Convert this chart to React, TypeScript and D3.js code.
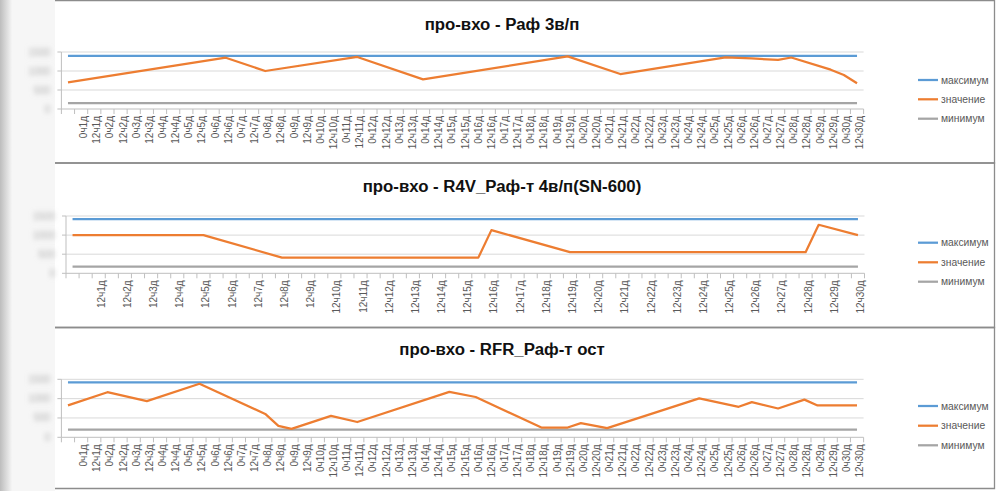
import React from "react";
import * as d3 from "d3";

const categories: string[] = [
  "", "0ч1д", "12ч1д", "0ч2д", "12ч2д", "0ч3д", "12ч3д", "0ч4д", "12ч4д", "0ч5д", "12ч5д",
  "0ч6д", "12ч6д", "0ч7д", "12ч7д", "0ч8д", "12ч8д", "0ч9д", "12ч9д", "0ч10д", "12ч10д",
  "0ч11д", "12ч11д", "0ч12д", "12ч12д", "0ч13д", "12ч13д", "0ч14д", "12ч14д", "0ч15д", "12ч15д",
  "0ч16д", "12ч16д", "0ч17д", "12ч17д", "0ч18д", "12ч18д", "0ч19д", "12ч19д", "0ч20д", "12ч20д",
  "0ч21д", "12ч21д", "0ч22д", "12ч22д", "0ч23д", "12ч23д", "0ч24д", "12ч24д", "0ч25д", "12ч25д",
  "0ч26д", "12ч26д", "0ч27д", "12ч27д", "0ч28д", "12ч28д", "0ч29д", "12ч29д", "0ч30д", "12ч30д",
];

const yTicks = [0, 500, 1000, 1500];
const seriesNames = ["максимум", "значение", "минимум"];
const seriesColors = ["#5b9bd5", "#ed7d31", "#a5a5a5"];

const titles = [
  "про-вхо - Раф 3в/п",
  "про-вхо - R4V_Раф-т 4в/п(SN-600)",
  "про-вхо - RFR_Раф-т ост",
];

const maxValues = [1400, 1420, 1420];
const minValues = [155, 175, 200];

// measured points ("значение"); Excel connects the gaps with straight lines
const values1: [string, number][] = [
  ["", 700], ["12ч6д", 1350], ["0ч8д", 1000], ["12ч11д", 1370], ["0ч14д", 780],
  ["12ч19д", 1385], ["12ч21д", 920], ["12ч25д", 1360], ["12ч26д", 1330], ["12ч27д", 1290],
  ["0ч28д", 1355], ["12ч29д", 1035], ["0ч30д", 895], ["12ч30д", 676],
];
const values2: [string, number][] = [
  ["", 1000], ["12ч5д", 1000], ["12ч8д", 410], ["0ч16д", 410], ["12ч16д", 1130],
  ["12ч19д", 553], ["12ч28д", 553], ["0ч29д", 1270], ["12ч30д", 1000],
];
const values3: [string, number][] = [
  ["", 824], ["0ч2д", 1166], ["12ч3д", 937], ["12ч5д", 1384], ["0ч8д", 605],
  ["12ч8д", 297], ["0ч9д", 218], ["12ч10д", 553], ["12ч11д", 395], ["0ч15д", 1174],
  ["0ч16д", 1042], ["12ч18д", 253], ["12ч19д", 253], ["0ч20д", 368], ["0ч21д", 237],
  ["12ч24д", 1008], ["0ч26д", 789], ["12ч26д", 911], ["12ч27д", 745], ["12ч28д", 974],
  ["0ч29д", 824], ["12ч30д", 824],
];
const panelValues = [values1, values2, values3];

const layouts = [
  { top: 0.5, bottom: 163, titleY: 24, plotTop: 52, plotBottom: 109, x0: 61.4, x1: 863.6, legendY: [80, 99.3, 118.7], labelStep: 1 },
  { top: 163, bottom: 327.5, titleY: 186.7, plotTop: 216, plotBottom: 273.3, x0: 66, x1: 864.5, legendY: [242.7, 262.3, 281.7], labelStep: 2 },
  { top: 327.5, bottom: 488.5, titleY: 349, plotTop: 379.3, plotBottom: 437.3, x0: 61.4, x1: 863.6, legendY: [406, 425.7, 445.3], labelStep: 1 },
];

const FONT = "'Liberation Sans', Arial, sans-serif";

function Panel({ i }: { i: number }) {
  const L = layouts[i];
  const x = d3.scaleBand<string>().domain(categories).range([L.x0, L.x1]).padding(0);
  const y = d3.scaleLinear().domain([0, 1500]).range([L.plotBottom, L.plotTop]);
  const cx = (c: string) => (x(c) ?? 0) + x.bandwidth() / 2;
  const line = d3.line<[string, number]>().x((d) => cx(d[0])).y((d) => y(d[1]));
  const maxLine = line(categories.map((c) => [c, maxValues[i]] as [string, number])) || "";
  const minLine = line(categories.map((c) => [c, minValues[i]] as [string, number])) || "";
  const valLine = line(panelValues[i]) || "";
  const boundaries = d3.range(categories.length + 1).map((k) => L.x0 + k * x.bandwidth());

  return (
    <g>
      <path
        d={`M55,${L.top}H994.5V${L.bottom}H55`}
        fill="none"
        stroke="#8c8c8c"
        strokeWidth={1.3}
      />
      <text x={502} y={L.titleY} textAnchor="middle" dominantBaseline="central" fontFamily={FONT} fontWeight="bold" fontSize={16.8} fill="#111">
        {titles[i]}
      </text>
      {yTicks.slice(1).map((t) => (
        <line key={t} x1={L.x0} x2={L.x1} y1={y(t)} y2={y(t)} stroke="#d9d9d9" strokeWidth={1} />
      ))}
      <line x1={L.x0} x2={L.x0} y1={y(1500)} y2={y(0)} stroke="#bfbfbf" strokeWidth={1} />
      {yTicks.map((t) => (
        <line key={"yt" + t} x1={L.x0 - 4} x2={L.x0} y1={y(t)} y2={y(t)} stroke="#bfbfbf" strokeWidth={1} />
      ))}
      {yTicks.map((t) => (
        <text key={"yl" + t} x={L.x0 - 11} y={y(t)} textAnchor="end" dominantBaseline="central" fontFamily={FONT} fontSize={10} fill="#b0b0b0" filter="url(#blurLbl)">
          {t}
        </text>
      ))}
      <line x1={L.x0} x2={L.x1} y1={y(0)} y2={y(0)} stroke="#bfbfbf" strokeWidth={1} />
      {boundaries.map((b, k) => (
        <line key={"xt" + k} x1={b} x2={b} y1={y(0)} y2={y(0) + 5} stroke="#bfbfbf" strokeWidth={1} />
      ))}
      {categories.map((c, k) =>
        k % L.labelStep === 0 && c !== "" ? (
          <text
            key={"xl" + k}
            transform={`translate(${cx(c) + 2.5},${y(0) + 7}) rotate(-90)`}
            textAnchor="end"
            dy="0.35em"
            fontFamily={FONT}
            fontSize={10}
            fill="#595959"
          >
            {c}
          </text>
        ) : null
      )}
      <path d={maxLine} fill="none" stroke={seriesColors[0]} strokeWidth={2.25} />
      <path d={minLine} fill="none" stroke={seriesColors[2]} strokeWidth={2.25} />
      <path d={valLine} fill="none" stroke={seriesColors[1]} strokeWidth={2.25} strokeLinejoin="round" />
      {seriesNames.map((n, k) => (
        <g key={n}>
          <line x1={918} x2={938} y1={L.legendY[k]} y2={L.legendY[k]} stroke={seriesColors[k]} strokeWidth={2.25} />
          <text x={941} y={L.legendY[k]} dominantBaseline="central" fontFamily={FONT} fontSize={10.3} fill="#595959">
            {n}
          </text>
        </g>
      ))}
    </g>
  );
}

export default function App() {
  return (
    <svg width={1000} height={491} style={{ position: "absolute", left: 0, top: 0 }}>
      <defs>
        <filter id="blurLbl" x="-50%" y="-100%" width="200%" height="300%">
          <feGaussianBlur stdDeviation="2.8" />
        </filter>
        <linearGradient id="leftFade" x1="0" x2="1" y1="0" y2="0">
          <stop offset="0" stopColor="#bdbdbd" />
          <stop offset="1" stopColor="#f5f5f5" />
        </linearGradient>
      </defs>
      <rect x={0} y={0} width={1000} height={491} fill="#ffffff" />
      <rect x={0} y={0} width={55} height={491} fill="#f6f6f6" />
      <rect x={0} y={0} width={12} height={491} fill="url(#leftFade)" />
      {layouts.map((_, i) => (
        <Panel key={i} i={i} />
      ))}
    </svg>
  );
}
